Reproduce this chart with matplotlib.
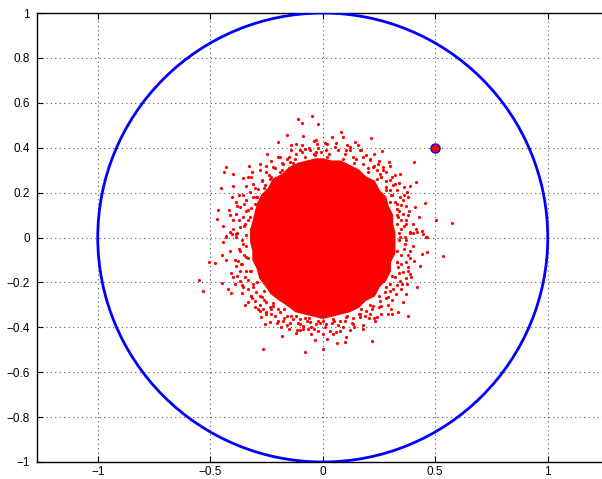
import matplotlib
matplotlib.use("Agg")
import matplotlib.pyplot as plt
from matplotlib.patches import Circle, Polygon

plt.rcParams["font.family"] = ["Liberation Sans", "DejaVu Sans"]

# ── Data ──────────────────────────────────────────────────────────────────
CIRCLE_CENTER = (0.0, 0.0)
CIRCLE_RADIUS = 1.0
TARGET_X, TARGET_Y = 0.5, 0.4

# solid core of the point cloud (outline of the fully red area)
CORE = [
    (0.00, 0.35), (0.04, 0.34), (0.08, 0.34), (0.12, 0.32), (0.16, 0.30), (0.19, 0.27),
    (0.23, 0.25), (0.25, 0.21), (0.28, 0.18), (0.29, 0.14), (0.31, 0.10), (0.31, 0.06),
    (0.32, 0.02), (0.32, -0.03), (0.32, -0.07), (0.30, -0.11), (0.30, -0.15), (0.28, -0.19),
    (0.25, -0.22), (0.23, -0.26), (0.19, -0.28), (0.16, -0.31), (0.12, -0.33), (0.08, -0.34),
    (0.04, -0.35), (0.00, -0.36), (-0.04, -0.35), (-0.08, -0.34), (-0.12, -0.33), (-0.16, -0.30),
    (-0.19, -0.28), (-0.23, -0.25), (-0.25, -0.22), (-0.28, -0.18), (-0.29, -0.14), (-0.31, -0.10),
    (-0.31, -0.06), (-0.32, -0.02), (-0.32, 0.03), (-0.31, 0.07), (-0.30, 0.11), (-0.29, 0.15),
    (-0.27, 0.19), (-0.24, 0.22), (-0.22, 0.26), (-0.18, 0.28), (-0.15, 0.31), (-0.11, 0.33),
    (-0.07, 0.34), (-0.03, 0.35),
]

# scattered samples outside the core
OUTER = [
    (-0.047, 0.540), (-0.093, 0.512), (-0.108, 0.530), (-0.022, 0.504), (-0.160, 0.455),
    (-0.199, 0.425), (-0.246, 0.371), (-0.281, 0.326), (-0.329, 0.320), (-0.430, 0.314),
    (-0.437, 0.290), (-0.401, 0.281), (-0.354, 0.263), (-0.453, 0.220), (-0.465, 0.121),
    (-0.470, 0.083), (-0.401, 0.231), (-0.403, 0.180), (-0.384, 0.158), (-0.416, 0.124),
    (-0.443, 0.049), (-0.142, 0.414), (-0.120, 0.418), (-0.087, 0.451), (-0.032, 0.436),
    (0.019, 0.418), (-0.024, 0.418), (-0.228, 0.341), (-0.332, 0.269), (-0.316, 0.292),
    (0.081, 0.472), (0.215, 0.443), (0.041, 0.448), (0.092, 0.448), (0.142, 0.427),
    (0.158, 0.412), (0.120, 0.405), (0.407, 0.338), (0.265, 0.385), (0.230, 0.371),
    (0.296, 0.336), (0.299, 0.320), (0.323, 0.278), (0.345, 0.281), (0.413, 0.246),
    (0.387, 0.228), (0.453, 0.155), (0.504, 0.077), (0.573, 0.065), (0.428, 0.092),
    (0.462, 0.004), (0.410, 0.135), (0.381, 0.179), (0.375, 0.204), (0.363, 0.225),
    (0.385, 0.116), (0.369, 0.079), (0.416, 0.039), (0.443, 0.028), (0.399, 0.018),
    (0.341, 0.243), (0.356, 0.165),
    (-0.551, -0.189), (-0.533, -0.240), (-0.504, -0.107), (-0.480, -0.113), (-0.449, -0.076),
    (-0.448, -0.204), (-0.421, -0.228), (-0.409, -0.246), (-0.428, -0.100), (-0.406, -0.156),
    (-0.399, -0.177), (-0.357, -0.249), (-0.347, -0.300), (-0.330, -0.286), (-0.316, -0.269),
    (-0.302, -0.308), (-0.279, -0.326), (-0.256, -0.385), (-0.264, -0.496), (-0.231, -0.341),
    (-0.236, -0.309), (-0.203, -0.383), (-0.179, -0.439), (-0.077, -0.508), (-0.120, -0.426),
    (-0.116, -0.411), (-0.148, -0.409), (-0.089, -0.409), (-0.065, -0.408), (-0.041, -0.406),
    (-0.034, -0.458), (0.019, -0.452), (0.001, -0.497), (-0.022, -0.418), (-0.443, -0.021),
    (-0.432, 0.008), (-0.403, 0.017), (-0.384, -0.125), (-0.376, -0.103), (-0.391, -0.207),
    (-0.369, -0.192), (-0.354, -0.222), (-0.273, -0.356), (-0.236, -0.378), (-0.147, -0.383),
    (-0.102, -0.385), (-0.072, -0.371),
    (0.535, -0.083), (0.418, -0.222), (0.379, -0.350), (0.336, -0.330), (0.307, -0.341),
    (0.289, -0.341), (0.356, -0.289), (0.372, -0.251), (0.431, -0.128), (0.407, -0.103),
    (0.462, -0.066), (0.443, -0.073), (0.458, 0.004), (0.419, 0.024), (0.446, 0.017),
    (0.221, -0.463), (0.179, -0.409), (0.139, -0.397), (0.102, -0.442), (0.098, -0.467),
    (0.065, -0.472), (0.046, -0.430), (0.076, -0.415), (0.302, -0.320), (0.327, -0.251),
    (0.354, -0.207), (0.375, -0.207), (0.390, -0.162), (0.231, -0.371), (0.239, -0.353),
    (0.206, -0.359), (0.164, -0.356),
]

# denser fringe just around the core
FRINGE = [
    (-0.201, 0.358), (-0.161, 0.351), (-0.147, 0.336), (-0.221, 0.314), (-0.250, 0.292),
    (-0.272, 0.254), (-0.310, 0.240), (-0.288, 0.217), (-0.324, 0.202), (-0.354, 0.188),
    (-0.339, 0.165), (-0.369, 0.135), (-0.332, 0.121), (-0.384, 0.106), (-0.354, 0.091),
    (-0.399, 0.076), (-0.369, 0.046), (-0.413, 0.024), (-0.384, 0.017), (-0.428, 0.001),
    (-0.102, 0.388), (-0.080, 0.396), (-0.058, 0.388), (-0.006, 0.381), (-0.191, 0.292),
    (-0.236, 0.262), (-0.258, 0.232), (-0.295, 0.180), (-0.302, 0.150), (-0.324, 0.091),
    (-0.347, 0.061), (-0.317, 0.039), (-0.176, 0.329), (-0.124, 0.351), (-0.036, 0.366),
    (0.016, 0.388), (0.053, 0.403), (0.105, 0.388), (0.164, 0.388), (0.194, 0.366),
    (0.135, 0.358), (0.209, 0.344), (0.246, 0.329), (0.268, 0.314), (0.239, 0.299),
    (0.283, 0.292), (0.261, 0.269), (0.298, 0.254), (0.313, 0.232), (0.283, 0.224),
    (0.328, 0.210), (0.305, 0.188), (0.342, 0.180), (0.320, 0.158), (0.350, 0.143),
    (0.328, 0.128), (0.357, 0.106), (0.335, 0.091), (0.372, 0.061), (0.350, 0.039),
    (0.387, 0.024), (0.364, 0.001), (0.179, 0.329), (0.224, 0.314), (0.253, 0.283),
    (-0.384, 0.001), (-0.354, -0.028), (-0.369, -0.058), (-0.339, -0.088), (-0.362, -0.117),
    (-0.324, -0.147), (-0.347, -0.177), (-0.310, -0.207), (-0.332, -0.229), (-0.295, -0.244),
    (-0.272, -0.266), (-0.302, -0.281), (-0.250, -0.289), (-0.221, -0.304), (-0.265, -0.318),
    (-0.191, -0.333), (-0.213, -0.348), (-0.161, -0.348), (-0.132, -0.363), (-0.176, -0.371),
    (-0.102, -0.363), (-0.058, -0.378), (-0.088, -0.393), (-0.028, -0.385), (0.001, -0.371),
    (-0.184, -0.400), (-0.250, -0.341), (-0.288, -0.318), (-0.317, -0.259), (-0.369, -0.147),
    (0.342, 0.001), (0.364, -0.028), (0.387, -0.058), (0.350, -0.080), (0.372, -0.110),
    (0.335, -0.133), (0.357, -0.155), (0.320, -0.177), (0.342, -0.192), (0.298, -0.207),
    (0.313, -0.229), (0.276, -0.244), (0.290, -0.266), (0.253, -0.281), (0.261, -0.304),
    (0.224, -0.304), (0.194, -0.326), (0.209, -0.341), (0.164, -0.341), (0.135, -0.358),
    (0.105, -0.353), (0.076, -0.371), (0.046, -0.363), (0.016, -0.385), (0.135, -0.385),
    (0.090, -0.400), (0.031, -0.415), (0.379, -0.147), (0.394, -0.177), (0.328, -0.110),
]

# speckle band hugging the core edge
EDGE = [
    (-0.02, 0.40), (0.03, 0.37), (0.07, 0.39), (0.10, 0.37), (0.12, 0.39), (0.15, 0.35),
    (0.18, 0.36), (0.20, 0.31), (0.23, 0.32), (0.26, 0.27), (0.28, 0.25), (0.30, 0.21),
    (0.31, 0.19), (0.33, 0.15), (0.34, 0.12), (0.35, 0.08), (0.36, 0.05), (0.34, 0.02),
    (0.37, -0.01), (0.36, -0.05), (0.38, -0.08), (0.35, -0.12), (0.34, -0.16), (0.33, -0.21),
    (0.30, -0.24), (0.28, -0.27), (0.25, -0.31), (0.22, -0.32), (0.19, -0.35), (0.16, -0.34),
    (0.13, -0.38), (0.10, -0.37), (0.07, -0.39), (0.04, -0.38), (0.01, -0.40), (-0.02, -0.37),
    (-0.05, -0.40), (-0.08, -0.36), (-0.11, -0.38), (-0.14, -0.35), (-0.17, -0.36), (-0.20, -0.32),
    (-0.23, -0.32), (-0.26, -0.28), (-0.28, -0.26), (-0.31, -0.22), (-0.33, -0.19), (-0.34, -0.15),
    (-0.36, -0.12), (-0.35, -0.08), (-0.37, -0.05), (-0.36, -0.01), (-0.38, 0.02), (-0.35, 0.05),
    (-0.37, 0.08), (-0.34, 0.12), (-0.35, 0.15), (-0.31, 0.18), (-0.30, 0.22), (-0.27, 0.25),
    (-0.24, 0.28), (-0.21, 0.31), (-0.18, 0.33), (-0.15, 0.36), (-0.12, 0.37), (-0.09, 0.38),
    (-0.06, 0.40), (-0.04, 0.37),
    (0.01, 0.42), (0.06, 0.42), (0.11, 0.41), (0.17, 0.39), (0.21, 0.35), (0.25, 0.34),
    (0.27, 0.30), (0.31, 0.27), (0.32, 0.24), (0.36, 0.19), (0.37, 0.14), (0.38, 0.10),
    (0.40, 0.06), (0.39, 0.02), (0.40, -0.04), (0.39, -0.09), (0.38, -0.13), (0.37, -0.18),
    (0.35, -0.23), (0.31, -0.28), (0.29, -0.30), (0.26, -0.34), (0.23, -0.36), (0.18, -0.39),
    (0.12, -0.41), (0.06, -0.42), (0.00, -0.43), (-0.05, -0.43), (-0.10, -0.41), (-0.16, -0.39),
    (-0.20, -0.37), (-0.25, -0.33), (-0.28, -0.30), (-0.32, -0.26), (-0.36, -0.21), (-0.38, -0.17),
    (-0.39, -0.10), (-0.41, -0.06), (-0.40, 0.04), (-0.41, 0.10), (-0.38, 0.14), (-0.37, 0.19),
    (-0.34, 0.23), (-0.32, 0.27), (-0.28, 0.30), (-0.25, 0.32), (-0.19, 0.36), (-0.14, 0.39),
    (-0.09, 0.41), (-0.04, 0.43),
    (0.02, 0.36), (0.09, 0.35), (0.14, 0.33), (0.20, 0.29), (0.24, 0.26), (0.28, 0.21),
    (0.30, 0.16), (0.33, 0.10), (0.33, 0.06), (0.34, -0.01), (0.33, -0.06), (0.33, -0.11),
    (0.31, -0.17), (0.28, -0.22), (0.25, -0.26), (0.21, -0.30), (0.17, -0.32), (0.11, -0.35),
    (0.05, -0.37), (-0.01, -0.38), (-0.06, -0.36), (-0.12, -0.35), (-0.17, -0.32), (-0.22, -0.29),
    (-0.26, -0.24), (-0.29, -0.20), (-0.32, -0.15), (-0.33, -0.09), (-0.34, -0.04), (-0.34, 0.01),
    (-0.33, 0.08), (-0.32, 0.13), (-0.29, 0.18), (-0.26, 0.22), (-0.23, 0.27), (-0.18, 0.30),
    (-0.13, 0.33), (-0.08, 0.36), (-0.03, 0.38),
]

CLOUD_X = [p[0] for p in OUTER + FRINGE + EDGE]
CLOUD_Y = [p[1] for p in OUTER + FRINGE + EDGE]

X_TICKS = [-1, -0.5, 0, 0.5, 1]
Y_TICKS = [-1, -0.8, -0.6, -0.4, -0.2, 0, 0.2, 0.4, 0.6, 0.8, 1]


def tick_label(v):
    return f"{v:g}".replace("-", "\u2212")


# ── Figure ────────────────────────────────────────────────────────────────
fig = plt.figure(figsize=(6.02, 4.79), dpi=100)
ax = fig.add_axes([37 / 602, 17 / 479, 571.5 / 602, 449 / 479])

ax.add_patch(Polygon(CORE, closed=True, facecolor="red", edgecolor="red",
                     lw=1.0, zorder=2))
ax.plot(CLOUD_X, CLOUD_Y, "o", color="red", ms=2.3, mew=0, zorder=2)
ax.add_patch(Circle(CIRCLE_CENTER, CIRCLE_RADIUS, fill=False, edgecolor="blue",
                    lw=2.0, zorder=3))
ax.plot([TARGET_X], [TARGET_Y], "o", ms=6.5, mfc="red", mec="blue", mew=1.0, zorder=4)

ax.set_xlim(-1.27, 1.27)
ax.set_ylim(-1, 1)
ax.set_xticks(X_TICKS)
ax.set_yticks(Y_TICKS)
ax.set_xticklabels([tick_label(v) for v in X_TICKS])
ax.set_yticklabels([tick_label(v) for v in Y_TICKS])
ax.grid(True, linestyle=(0, (1, 3)), color="#555555", lw=0.8)
ax.set_axisbelow(True)
ax.tick_params(direction="in", length=4, width=0.8, labelsize=8.5,
               top=True, right=True)
ax.tick_params(axis="x", pad=3)
ax.tick_params(axis="y", pad=5)
for s in ax.spines.values():
    s.set_linewidth(1.0)

plt.savefig("out.png", dpi=100)
